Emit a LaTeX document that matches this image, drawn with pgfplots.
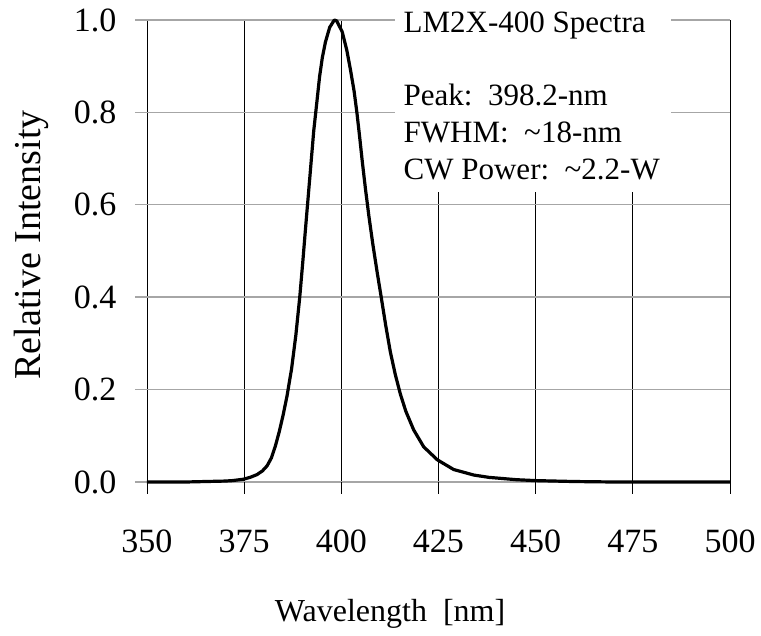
\documentclass[border=0pt]{standalone}
\usepackage{fontspec}
\setmainfont{Liberation Serif}
\usepackage{pgfplots}
\pgfplotsset{compat=1.18}
\begin{document}
\begin{tikzpicture}
\path[use as bounding box] (-147pt,-154pt) rectangle (614pt,482pt);
\begin{axis}[
  at={(0pt,0pt)}, anchor=south west,
  width=583pt, height=462pt, scale only axis,
  xmin=350, xmax=500, ymin=0, ymax=1,
  xtick={350,375,...,475},
  extra x ticks={500},
  extra x tick style={grid style={gray!70, line width=1.2pt}},
  ytick={0,0.2,...,1.0},
  xmajorgrids, ymajorgrids,
  x grid style={black, line width=0.8pt},
  y grid style={gray!70, line width=1.4pt},
  axis line style={draw=none},
  tick align=outside,
  xtick pos=bottom, ytick pos=left,
  major tick length=12pt,
  xtick style={black, line width=0.8pt},
  ytick style={gray!70, line width=1.4pt},
  /pgf/number format/assume math mode=true,
  yticklabel style={/pgf/number format/fixed, /pgf/number format/fixed zerofill, /pgf/number format/precision=1, font=\fontsize{34}{36}\selectfont, xshift=-15pt},
  xticklabel style={font=\fontsize{34}{36}\selectfont, text height=23pt, text depth=0pt, yshift=-32pt},
  xlabel={Wavelength\ \ [nm]},
  xlabel style={font=\fontsize{32}{36}\selectfont, at={(axis description cs:0.417,-0.301)}, anchor=base},
  ylabel={Relative Intensity},
  ylabel style={font=\fontsize{38}{40}\selectfont, at={(axis description cs:-0.1835,0.513)}, anchor=base},
  clip=false,
]
\addplot[black, line width=3.2pt, line join=round] coordinates {
(350,0) (360,0) (365,0.001) (370,0.002) (372,0.003) (374.8,0.006) (376.5,0.010)
(378.3,0.016) (379.7,0.024) (380.9,0.035) (382,0.052) (383,0.077) (384,0.108)
(385,0.144) (386,0.185) (387.2,0.245) (388.3,0.318) (389.3,0.400)
(390.1,0.478) (390.8,0.550) (391.5,0.620) (392.2,0.690) (392.9,0.760) (393.7,0.822)
(394.4,0.877) (395.1,0.918) (395.9,0.952) (397.0,0.984) (398.2,1.0) (398.8,0.998)
(400.2,0.975) (401.4,0.935) (402.4,0.890) (403.3,0.845) (404.0,0.800) (404.7,0.748)
(405.4,0.693) (406.2,0.635) (407.1,0.575) (408.1,0.515) (409.2,0.455) (410.3,0.398)
(411.4,0.340) (412.6,0.282) (413.9,0.232) (415.2,0.190) (416.6,0.153) (418.6,0.113)
(421.2,0.076) (424.7,0.048) (428.9,0.027) (434.1,0.015) (438,0.010) (445,0.005)
(450,0.003) (460,0.001) (470,0) (500,0)
};
\fill[white] (axis cs:413.9,1.01) rectangle (axis cs:484.8,0.628);
\node[anchor=base west, inner sep=0pt, font=\fontsize{31}{33}\selectfont] at (axis cs:416,0.974) {LM2X-400 Spectra};
\node[anchor=base west, inner sep=0pt, font=\fontsize{31}{33}\selectfont] at (axis cs:416,0.816) {Peak:\ \ 398.2-nm};
\node[anchor=base west, inner sep=0pt, font=\fontsize{31}{33}\selectfont] at (axis cs:416,0.734) {FWHM:\ \ \textasciitilde18-nm};
\node[anchor=base west, inner sep=0pt, font=\fontsize{31}{33}\selectfont] at (axis cs:416,0.654) {CW Power:\ \ \textasciitilde2.2-W};
\end{axis}
\end{tikzpicture}
\end{document}
